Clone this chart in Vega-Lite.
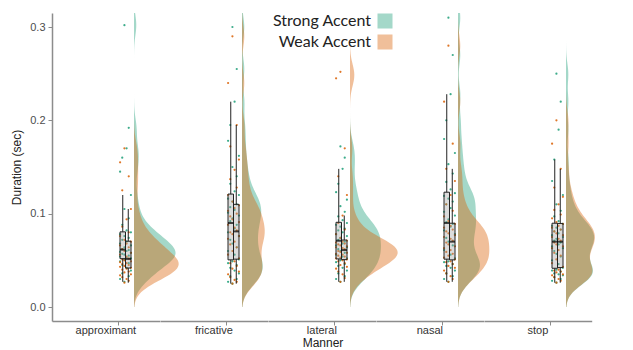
{
"$schema":"https://vega.github.io/schema/vega-lite/v6.json",
"background":"white",
"bounds":"flush",
"padding":{"left":10,"top":13,"right":5,"bottom":0},
"data":{"values":[
{"manner":"approximant","accent":"Strong Accent","dur":0.027,"spk":"s3"},{"manner":"approximant","accent":"Strong Accent","dur":0.030,"spk":"s1"},{"manner":"approximant","accent":"Strong Accent","dur":0.033,"spk":"s5"},{"manner":"approximant","accent":"Strong Accent","dur":0.036,"spk":"s2"},{"manner":"approximant","accent":"Strong Accent","dur":0.039,"spk":"s6"},{"manner":"approximant","accent":"Strong Accent","dur":0.042,"spk":"s4"},{"manner":"approximant","accent":"Strong Accent","dur":0.045,"spk":"s2"},{"manner":"approximant","accent":"Strong Accent","dur":0.047,"spk":"s5"},{"manner":"approximant","accent":"Strong Accent","dur":0.049,"spk":"s1"},{"manner":"approximant","accent":"Strong Accent","dur":0.051,"spk":"s3"},
{"manner":"approximant","accent":"Strong Accent","dur":0.052,"spk":"s6"},{"manner":"approximant","accent":"Strong Accent","dur":0.053,"spk":"s4"},{"manner":"approximant","accent":"Strong Accent","dur":0.054,"spk":"s1"},{"manner":"approximant","accent":"Strong Accent","dur":0.055,"spk":"s5"},{"manner":"approximant","accent":"Strong Accent","dur":0.056,"spk":"s3"},{"manner":"approximant","accent":"Strong Accent","dur":0.057,"spk":"s2"},{"manner":"approximant","accent":"Strong Accent","dur":0.058,"spk":"s6"},{"manner":"approximant","accent":"Strong Accent","dur":0.059,"spk":"s1"},{"manner":"approximant","accent":"Strong Accent","dur":0.060,"spk":"s4"},{"manner":"approximant","accent":"Strong Accent","dur":0.061,"spk":"s5"},
{"manner":"approximant","accent":"Strong Accent","dur":0.062,"spk":"s2"},{"manner":"approximant","accent":"Strong Accent","dur":0.064,"spk":"s3"},{"manner":"approximant","accent":"Strong Accent","dur":0.066,"spk":"s6"},{"manner":"approximant","accent":"Strong Accent","dur":0.068,"spk":"s1"},{"manner":"approximant","accent":"Strong Accent","dur":0.070,"spk":"s4"},{"manner":"approximant","accent":"Strong Accent","dur":0.072,"spk":"s2"},{"manner":"approximant","accent":"Strong Accent","dur":0.074,"spk":"s5"},{"manner":"approximant","accent":"Strong Accent","dur":0.076,"spk":"s3"},{"manner":"approximant","accent":"Strong Accent","dur":0.078,"spk":"s1"},{"manner":"approximant","accent":"Strong Accent","dur":0.080,"spk":"s6"},
{"manner":"approximant","accent":"Strong Accent","dur":0.082,"spk":"s4"},{"manner":"approximant","accent":"Strong Accent","dur":0.088,"spk":"s2"},{"manner":"approximant","accent":"Strong Accent","dur":0.095,"spk":"s5"},{"manner":"approximant","accent":"Strong Accent","dur":0.105,"spk":"s3"},{"manner":"approximant","accent":"Strong Accent","dur":0.120,"spk":"s6"},{"manner":"approximant","accent":"Strong Accent","dur":0.145,"spk":"s1"},{"manner":"approximant","accent":"Strong Accent","dur":0.160,"spk":"s2"},{"manner":"approximant","accent":"Strong Accent","dur":0.170,"spk":"s4"},{"manner":"approximant","accent":"Strong Accent","dur":0.192,"spk":"s5"},{"manner":"approximant","accent":"Strong Accent","dur":0.302,"spk":"s3"},
{"manner":"approximant","accent":"Weak Accent","dur":0.026,"spk":"s3"},{"manner":"approximant","accent":"Weak Accent","dur":0.028,"spk":"s5"},{"manner":"approximant","accent":"Weak Accent","dur":0.030,"spk":"s4"},{"manner":"approximant","accent":"Weak Accent","dur":0.032,"spk":"s2"},{"manner":"approximant","accent":"Weak Accent","dur":0.034,"spk":"s1"},{"manner":"approximant","accent":"Weak Accent","dur":0.035,"spk":"s6"},{"manner":"approximant","accent":"Weak Accent","dur":0.037,"spk":"s3"},{"manner":"approximant","accent":"Weak Accent","dur":0.038,"spk":"s5"},{"manner":"approximant","accent":"Weak Accent","dur":0.040,"spk":"s2"},{"manner":"approximant","accent":"Weak Accent","dur":0.041,"spk":"s4"},
{"manner":"approximant","accent":"Weak Accent","dur":0.042,"spk":"s6"},{"manner":"approximant","accent":"Weak Accent","dur":0.043,"spk":"s1"},{"manner":"approximant","accent":"Weak Accent","dur":0.044,"spk":"s3"},{"manner":"approximant","accent":"Weak Accent","dur":0.045,"spk":"s5"},{"manner":"approximant","accent":"Weak Accent","dur":0.046,"spk":"s2"},{"manner":"approximant","accent":"Weak Accent","dur":0.047,"spk":"s4"},{"manner":"approximant","accent":"Weak Accent","dur":0.048,"spk":"s1"},{"manner":"approximant","accent":"Weak Accent","dur":0.049,"spk":"s6"},{"manner":"approximant","accent":"Weak Accent","dur":0.050,"spk":"s3"},{"manner":"approximant","accent":"Weak Accent","dur":0.051,"spk":"s2"},
{"manner":"approximant","accent":"Weak Accent","dur":0.052,"spk":"s5"},{"manner":"approximant","accent":"Weak Accent","dur":0.054,"spk":"s4"},{"manner":"approximant","accent":"Weak Accent","dur":0.056,"spk":"s1"},{"manner":"approximant","accent":"Weak Accent","dur":0.058,"spk":"s6"},{"manner":"approximant","accent":"Weak Accent","dur":0.060,"spk":"s3"},{"manner":"approximant","accent":"Weak Accent","dur":0.062,"spk":"s2"},{"manner":"approximant","accent":"Weak Accent","dur":0.064,"spk":"s5"},{"manner":"approximant","accent":"Weak Accent","dur":0.066,"spk":"s1"},{"manner":"approximant","accent":"Weak Accent","dur":0.068,"spk":"s4"},{"manner":"approximant","accent":"Weak Accent","dur":0.070,"spk":"s6"},
{"manner":"approximant","accent":"Weak Accent","dur":0.072,"spk":"s3"},{"manner":"approximant","accent":"Weak Accent","dur":0.076,"spk":"s1"},{"manner":"approximant","accent":"Weak Accent","dur":0.080,"spk":"s5"},{"manner":"approximant","accent":"Weak Accent","dur":0.086,"spk":"s2"},{"manner":"approximant","accent":"Weak Accent","dur":0.094,"spk":"s4"},{"manner":"approximant","accent":"Weak Accent","dur":0.105,"spk":"s6"},{"manner":"approximant","accent":"Weak Accent","dur":0.125,"spk":"s2"},{"manner":"approximant","accent":"Weak Accent","dur":0.140,"spk":"s5"},{"manner":"approximant","accent":"Weak Accent","dur":0.155,"spk":"s1"},{"manner":"approximant","accent":"Weak Accent","dur":0.170,"spk":"s3"},
{"manner":"fricative","accent":"Strong Accent","dur":0.025,"spk":"s3"},{"manner":"fricative","accent":"Strong Accent","dur":0.027,"spk":"s1"},{"manner":"fricative","accent":"Strong Accent","dur":0.030,"spk":"s5"},{"manner":"fricative","accent":"Strong Accent","dur":0.033,"spk":"s2"},{"manner":"fricative","accent":"Strong Accent","dur":0.036,"spk":"s6"},{"manner":"fricative","accent":"Strong Accent","dur":0.039,"spk":"s4"},{"manner":"fricative","accent":"Strong Accent","dur":0.042,"spk":"s2"},{"manner":"fricative","accent":"Strong Accent","dur":0.045,"spk":"s5"},{"manner":"fricative","accent":"Strong Accent","dur":0.047,"spk":"s1"},{"manner":"fricative","accent":"Strong Accent","dur":0.049,"spk":"s3"},
{"manner":"fricative","accent":"Strong Accent","dur":0.051,"spk":"s6"},{"manner":"fricative","accent":"Strong Accent","dur":0.056,"spk":"s4"},{"manner":"fricative","accent":"Strong Accent","dur":0.060,"spk":"s1"},{"manner":"fricative","accent":"Strong Accent","dur":0.064,"spk":"s5"},{"manner":"fricative","accent":"Strong Accent","dur":0.068,"spk":"s3"},{"manner":"fricative","accent":"Strong Accent","dur":0.072,"spk":"s2"},{"manner":"fricative","accent":"Strong Accent","dur":0.076,"spk":"s6"},{"manner":"fricative","accent":"Strong Accent","dur":0.080,"spk":"s1"},{"manner":"fricative","accent":"Strong Accent","dur":0.084,"spk":"s4"},{"manner":"fricative","accent":"Strong Accent","dur":0.088,"spk":"s5"},
{"manner":"fricative","accent":"Strong Accent","dur":0.092,"spk":"s2"},{"manner":"fricative","accent":"Strong Accent","dur":0.095,"spk":"s3"},{"manner":"fricative","accent":"Strong Accent","dur":0.098,"spk":"s6"},{"manner":"fricative","accent":"Strong Accent","dur":0.101,"spk":"s1"},{"manner":"fricative","accent":"Strong Accent","dur":0.104,"spk":"s4"},{"manner":"fricative","accent":"Strong Accent","dur":0.107,"spk":"s2"},{"manner":"fricative","accent":"Strong Accent","dur":0.110,"spk":"s5"},{"manner":"fricative","accent":"Strong Accent","dur":0.113,"spk":"s3"},{"manner":"fricative","accent":"Strong Accent","dur":0.116,"spk":"s1"},{"manner":"fricative","accent":"Strong Accent","dur":0.120,"spk":"s6"},
{"manner":"fricative","accent":"Strong Accent","dur":0.124,"spk":"s4"},{"manner":"fricative","accent":"Strong Accent","dur":0.132,"spk":"s2"},{"manner":"fricative","accent":"Strong Accent","dur":0.140,"spk":"s5"},{"manner":"fricative","accent":"Strong Accent","dur":0.150,"spk":"s3"},{"manner":"fricative","accent":"Strong Accent","dur":0.162,"spk":"s6"},{"manner":"fricative","accent":"Strong Accent","dur":0.178,"spk":"s1"},{"manner":"fricative","accent":"Strong Accent","dur":0.195,"spk":"s2"},{"manner":"fricative","accent":"Strong Accent","dur":0.220,"spk":"s4"},{"manner":"fricative","accent":"Strong Accent","dur":0.255,"spk":"s5"},{"manner":"fricative","accent":"Strong Accent","dur":0.300,"spk":"s3"},
{"manner":"fricative","accent":"Weak Accent","dur":0.025,"spk":"s3"},{"manner":"fricative","accent":"Weak Accent","dur":0.027,"spk":"s5"},{"manner":"fricative","accent":"Weak Accent","dur":0.029,"spk":"s4"},{"manner":"fricative","accent":"Weak Accent","dur":0.032,"spk":"s2"},{"manner":"fricative","accent":"Weak Accent","dur":0.035,"spk":"s1"},{"manner":"fricative","accent":"Weak Accent","dur":0.038,"spk":"s6"},{"manner":"fricative","accent":"Weak Accent","dur":0.041,"spk":"s3"},{"manner":"fricative","accent":"Weak Accent","dur":0.044,"spk":"s5"},{"manner":"fricative","accent":"Weak Accent","dur":0.047,"spk":"s2"},{"manner":"fricative","accent":"Weak Accent","dur":0.049,"spk":"s4"},
{"manner":"fricative","accent":"Weak Accent","dur":0.052,"spk":"s6"},{"manner":"fricative","accent":"Weak Accent","dur":0.056,"spk":"s1"},{"manner":"fricative","accent":"Weak Accent","dur":0.060,"spk":"s3"},{"manner":"fricative","accent":"Weak Accent","dur":0.064,"spk":"s5"},{"manner":"fricative","accent":"Weak Accent","dur":0.067,"spk":"s2"},{"manner":"fricative","accent":"Weak Accent","dur":0.070,"spk":"s4"},{"manner":"fricative","accent":"Weak Accent","dur":0.073,"spk":"s1"},{"manner":"fricative","accent":"Weak Accent","dur":0.076,"spk":"s6"},{"manner":"fricative","accent":"Weak Accent","dur":0.078,"spk":"s3"},{"manner":"fricative","accent":"Weak Accent","dur":0.080,"spk":"s2"},
{"manner":"fricative","accent":"Weak Accent","dur":0.082,"spk":"s5"},{"manner":"fricative","accent":"Weak Accent","dur":0.085,"spk":"s4"},{"manner":"fricative","accent":"Weak Accent","dur":0.088,"spk":"s1"},{"manner":"fricative","accent":"Weak Accent","dur":0.091,"spk":"s6"},{"manner":"fricative","accent":"Weak Accent","dur":0.094,"spk":"s3"},{"manner":"fricative","accent":"Weak Accent","dur":0.097,"spk":"s2"},{"manner":"fricative","accent":"Weak Accent","dur":0.100,"spk":"s5"},{"manner":"fricative","accent":"Weak Accent","dur":0.103,"spk":"s1"},{"manner":"fricative","accent":"Weak Accent","dur":0.106,"spk":"s4"},{"manner":"fricative","accent":"Weak Accent","dur":0.109,"spk":"s6"},
{"manner":"fricative","accent":"Weak Accent","dur":0.113,"spk":"s3"},{"manner":"fricative","accent":"Weak Accent","dur":0.120,"spk":"s1"},{"manner":"fricative","accent":"Weak Accent","dur":0.128,"spk":"s5"},{"manner":"fricative","accent":"Weak Accent","dur":0.137,"spk":"s2"},{"manner":"fricative","accent":"Weak Accent","dur":0.147,"spk":"s4"},{"manner":"fricative","accent":"Weak Accent","dur":0.158,"spk":"s6"},{"manner":"fricative","accent":"Weak Accent","dur":0.172,"spk":"s2"},{"manner":"fricative","accent":"Weak Accent","dur":0.195,"spk":"s5"},{"manner":"fricative","accent":"Weak Accent","dur":0.240,"spk":"s1"},{"manner":"fricative","accent":"Weak Accent","dur":0.290,"spk":"s3"},
{"manner":"lateral","accent":"Strong Accent","dur":0.027,"spk":"s3"},{"manner":"lateral","accent":"Strong Accent","dur":0.030,"spk":"s1"},{"manner":"lateral","accent":"Strong Accent","dur":0.033,"spk":"s5"},{"manner":"lateral","accent":"Strong Accent","dur":0.036,"spk":"s2"},{"manner":"lateral","accent":"Strong Accent","dur":0.039,"spk":"s6"},{"manner":"lateral","accent":"Strong Accent","dur":0.042,"spk":"s4"},{"manner":"lateral","accent":"Strong Accent","dur":0.044,"spk":"s2"},{"manner":"lateral","accent":"Strong Accent","dur":0.046,"spk":"s5"},{"manner":"lateral","accent":"Strong Accent","dur":0.048,"spk":"s1"},{"manner":"lateral","accent":"Strong Accent","dur":0.050,"spk":"s3"},
{"manner":"lateral","accent":"Strong Accent","dur":0.052,"spk":"s6"},{"manner":"lateral","accent":"Strong Accent","dur":0.054,"spk":"s4"},{"manner":"lateral","accent":"Strong Accent","dur":0.056,"spk":"s1"},{"manner":"lateral","accent":"Strong Accent","dur":0.058,"spk":"s5"},{"manner":"lateral","accent":"Strong Accent","dur":0.060,"spk":"s3"},{"manner":"lateral","accent":"Strong Accent","dur":0.062,"spk":"s2"},{"manner":"lateral","accent":"Strong Accent","dur":0.064,"spk":"s6"},{"manner":"lateral","accent":"Strong Accent","dur":0.066,"spk":"s1"},{"manner":"lateral","accent":"Strong Accent","dur":0.068,"spk":"s4"},{"manner":"lateral","accent":"Strong Accent","dur":0.070,"spk":"s5"},
{"manner":"lateral","accent":"Strong Accent","dur":0.072,"spk":"s2"},{"manner":"lateral","accent":"Strong Accent","dur":0.074,"spk":"s3"},{"manner":"lateral","accent":"Strong Accent","dur":0.076,"spk":"s6"},{"manner":"lateral","accent":"Strong Accent","dur":0.078,"spk":"s1"},{"manner":"lateral","accent":"Strong Accent","dur":0.080,"spk":"s4"},{"manner":"lateral","accent":"Strong Accent","dur":0.082,"spk":"s2"},{"manner":"lateral","accent":"Strong Accent","dur":0.084,"spk":"s5"},{"manner":"lateral","accent":"Strong Accent","dur":0.086,"spk":"s3"},{"manner":"lateral","accent":"Strong Accent","dur":0.088,"spk":"s1"},{"manner":"lateral","accent":"Strong Accent","dur":0.090,"spk":"s6"},
{"manner":"lateral","accent":"Strong Accent","dur":0.093,"spk":"s4"},{"manner":"lateral","accent":"Strong Accent","dur":0.097,"spk":"s2"},{"manner":"lateral","accent":"Strong Accent","dur":0.102,"spk":"s5"},{"manner":"lateral","accent":"Strong Accent","dur":0.108,"spk":"s3"},{"manner":"lateral","accent":"Strong Accent","dur":0.115,"spk":"s6"},{"manner":"lateral","accent":"Strong Accent","dur":0.123,"spk":"s1"},{"manner":"lateral","accent":"Strong Accent","dur":0.132,"spk":"s2"},{"manner":"lateral","accent":"Strong Accent","dur":0.148,"spk":"s4"},{"manner":"lateral","accent":"Strong Accent","dur":0.160,"spk":"s5"},{"manner":"lateral","accent":"Strong Accent","dur":0.172,"spk":"s3"},
{"manner":"lateral","accent":"Weak Accent","dur":0.027,"spk":"s3"},{"manner":"lateral","accent":"Weak Accent","dur":0.031,"spk":"s5"},{"manner":"lateral","accent":"Weak Accent","dur":0.035,"spk":"s4"},{"manner":"lateral","accent":"Weak Accent","dur":0.038,"spk":"s2"},{"manner":"lateral","accent":"Weak Accent","dur":0.041,"spk":"s1"},{"manner":"lateral","accent":"Weak Accent","dur":0.043,"spk":"s6"},{"manner":"lateral","accent":"Weak Accent","dur":0.045,"spk":"s3"},{"manner":"lateral","accent":"Weak Accent","dur":0.047,"spk":"s5"},{"manner":"lateral","accent":"Weak Accent","dur":0.049,"spk":"s2"},{"manner":"lateral","accent":"Weak Accent","dur":0.050,"spk":"s4"},
{"manner":"lateral","accent":"Weak Accent","dur":0.051,"spk":"s6"},{"manner":"lateral","accent":"Weak Accent","dur":0.052,"spk":"s1"},{"manner":"lateral","accent":"Weak Accent","dur":0.053,"spk":"s3"},{"manner":"lateral","accent":"Weak Accent","dur":0.054,"spk":"s5"},{"manner":"lateral","accent":"Weak Accent","dur":0.055,"spk":"s2"},{"manner":"lateral","accent":"Weak Accent","dur":0.056,"spk":"s4"},{"manner":"lateral","accent":"Weak Accent","dur":0.057,"spk":"s1"},{"manner":"lateral","accent":"Weak Accent","dur":0.058,"spk":"s6"},{"manner":"lateral","accent":"Weak Accent","dur":0.059,"spk":"s3"},{"manner":"lateral","accent":"Weak Accent","dur":0.060,"spk":"s2"},
{"manner":"lateral","accent":"Weak Accent","dur":0.062,"spk":"s5"},{"manner":"lateral","accent":"Weak Accent","dur":0.063,"spk":"s4"},{"manner":"lateral","accent":"Weak Accent","dur":0.064,"spk":"s1"},{"manner":"lateral","accent":"Weak Accent","dur":0.065,"spk":"s6"},{"manner":"lateral","accent":"Weak Accent","dur":0.066,"spk":"s3"},{"manner":"lateral","accent":"Weak Accent","dur":0.067,"spk":"s2"},{"manner":"lateral","accent":"Weak Accent","dur":0.068,"spk":"s5"},{"manner":"lateral","accent":"Weak Accent","dur":0.069,"spk":"s1"},{"manner":"lateral","accent":"Weak Accent","dur":0.070,"spk":"s4"},{"manner":"lateral","accent":"Weak Accent","dur":0.071,"spk":"s6"},
{"manner":"lateral","accent":"Weak Accent","dur":0.074,"spk":"s3"},{"manner":"lateral","accent":"Weak Accent","dur":0.078,"spk":"s1"},{"manner":"lateral","accent":"Weak Accent","dur":0.083,"spk":"s5"},{"manner":"lateral","accent":"Weak Accent","dur":0.090,"spk":"s2"},{"manner":"lateral","accent":"Weak Accent","dur":0.098,"spk":"s4"},{"manner":"lateral","accent":"Weak Accent","dur":0.120,"spk":"s6"},{"manner":"lateral","accent":"Weak Accent","dur":0.140,"spk":"s2"},{"manner":"lateral","accent":"Weak Accent","dur":0.170,"spk":"s5"},{"manner":"lateral","accent":"Weak Accent","dur":0.245,"spk":"s1"},{"manner":"lateral","accent":"Weak Accent","dur":0.252,"spk":"s3"},
{"manner":"nasal","accent":"Strong Accent","dur":0.027,"spk":"s3"},{"manner":"nasal","accent":"Strong Accent","dur":0.030,"spk":"s1"},{"manner":"nasal","accent":"Strong Accent","dur":0.033,"spk":"s5"},{"manner":"nasal","accent":"Strong Accent","dur":0.036,"spk":"s2"},{"manner":"nasal","accent":"Strong Accent","dur":0.039,"spk":"s6"},{"manner":"nasal","accent":"Strong Accent","dur":0.042,"spk":"s4"},{"manner":"nasal","accent":"Strong Accent","dur":0.044,"spk":"s2"},{"manner":"nasal","accent":"Strong Accent","dur":0.046,"spk":"s5"},{"manner":"nasal","accent":"Strong Accent","dur":0.048,"spk":"s1"},{"manner":"nasal","accent":"Strong Accent","dur":0.049,"spk":"s3"},
{"manner":"nasal","accent":"Strong Accent","dur":0.052,"spk":"s6"},{"manner":"nasal","accent":"Strong Accent","dur":0.056,"spk":"s4"},{"manner":"nasal","accent":"Strong Accent","dur":0.061,"spk":"s1"},{"manner":"nasal","accent":"Strong Accent","dur":0.066,"spk":"s5"},{"manner":"nasal","accent":"Strong Accent","dur":0.070,"spk":"s3"},{"manner":"nasal","accent":"Strong Accent","dur":0.074,"spk":"s2"},{"manner":"nasal","accent":"Strong Accent","dur":0.078,"spk":"s6"},{"manner":"nasal","accent":"Strong Accent","dur":0.082,"spk":"s1"},{"manner":"nasal","accent":"Strong Accent","dur":0.086,"spk":"s4"},{"manner":"nasal","accent":"Strong Accent","dur":0.089,"spk":"s5"},
{"manner":"nasal","accent":"Strong Accent","dur":0.091,"spk":"s2"},{"manner":"nasal","accent":"Strong Accent","dur":0.094,"spk":"s3"},{"manner":"nasal","accent":"Strong Accent","dur":0.098,"spk":"s6"},{"manner":"nasal","accent":"Strong Accent","dur":0.102,"spk":"s1"},{"manner":"nasal","accent":"Strong Accent","dur":0.106,"spk":"s4"},{"manner":"nasal","accent":"Strong Accent","dur":0.110,"spk":"s2"},{"manner":"nasal","accent":"Strong Accent","dur":0.113,"spk":"s5"},{"manner":"nasal","accent":"Strong Accent","dur":0.116,"spk":"s3"},{"manner":"nasal","accent":"Strong Accent","dur":0.119,"spk":"s1"},{"manner":"nasal","accent":"Strong Accent","dur":0.122,"spk":"s6"},
{"manner":"nasal","accent":"Strong Accent","dur":0.126,"spk":"s4"},{"manner":"nasal","accent":"Strong Accent","dur":0.134,"spk":"s2"},{"manner":"nasal","accent":"Strong Accent","dur":0.143,"spk":"s5"},{"manner":"nasal","accent":"Strong Accent","dur":0.153,"spk":"s3"},{"manner":"nasal","accent":"Strong Accent","dur":0.165,"spk":"s6"},{"manner":"nasal","accent":"Strong Accent","dur":0.180,"spk":"s1"},{"manner":"nasal","accent":"Strong Accent","dur":0.200,"spk":"s2"},{"manner":"nasal","accent":"Strong Accent","dur":0.228,"spk":"s4"},{"manner":"nasal","accent":"Strong Accent","dur":0.270,"spk":"s5"},{"manner":"nasal","accent":"Strong Accent","dur":0.310,"spk":"s3"},
{"manner":"nasal","accent":"Weak Accent","dur":0.027,"spk":"s3"},{"manner":"nasal","accent":"Weak Accent","dur":0.030,"spk":"s5"},{"manner":"nasal","accent":"Weak Accent","dur":0.033,"spk":"s4"},{"manner":"nasal","accent":"Weak Accent","dur":0.036,"spk":"s2"},{"manner":"nasal","accent":"Weak Accent","dur":0.039,"spk":"s1"},{"manner":"nasal","accent":"Weak Accent","dur":0.042,"spk":"s6"},{"manner":"nasal","accent":"Weak Accent","dur":0.044,"spk":"s3"},{"manner":"nasal","accent":"Weak Accent","dur":0.046,"spk":"s5"},{"manner":"nasal","accent":"Weak Accent","dur":0.048,"spk":"s2"},{"manner":"nasal","accent":"Weak Accent","dur":0.049,"spk":"s4"},
{"manner":"nasal","accent":"Weak Accent","dur":0.051,"spk":"s6"},{"manner":"nasal","accent":"Weak Accent","dur":0.053,"spk":"s1"},{"manner":"nasal","accent":"Weak Accent","dur":0.055,"spk":"s3"},{"manner":"nasal","accent":"Weak Accent","dur":0.057,"spk":"s5"},{"manner":"nasal","accent":"Weak Accent","dur":0.059,"spk":"s2"},{"manner":"nasal","accent":"Weak Accent","dur":0.061,"spk":"s4"},{"manner":"nasal","accent":"Weak Accent","dur":0.063,"spk":"s1"},{"manner":"nasal","accent":"Weak Accent","dur":0.065,"spk":"s6"},{"manner":"nasal","accent":"Weak Accent","dur":0.067,"spk":"s3"},{"manner":"nasal","accent":"Weak Accent","dur":0.069,"spk":"s2"},
{"manner":"nasal","accent":"Weak Accent","dur":0.071,"spk":"s5"},{"manner":"nasal","accent":"Weak Accent","dur":0.073,"spk":"s4"},{"manner":"nasal","accent":"Weak Accent","dur":0.075,"spk":"s1"},{"manner":"nasal","accent":"Weak Accent","dur":0.077,"spk":"s6"},{"manner":"nasal","accent":"Weak Accent","dur":0.079,"spk":"s3"},{"manner":"nasal","accent":"Weak Accent","dur":0.081,"spk":"s2"},{"manner":"nasal","accent":"Weak Accent","dur":0.083,"spk":"s5"},{"manner":"nasal","accent":"Weak Accent","dur":0.085,"spk":"s1"},{"manner":"nasal","accent":"Weak Accent","dur":0.087,"spk":"s4"},{"manner":"nasal","accent":"Weak Accent","dur":0.089,"spk":"s6"},
{"manner":"nasal","accent":"Weak Accent","dur":0.092,"spk":"s3"},{"manner":"nasal","accent":"Weak Accent","dur":0.097,"spk":"s1"},{"manner":"nasal","accent":"Weak Accent","dur":0.103,"spk":"s5"},{"manner":"nasal","accent":"Weak Accent","dur":0.110,"spk":"s2"},{"manner":"nasal","accent":"Weak Accent","dur":0.120,"spk":"s4"},{"manner":"nasal","accent":"Weak Accent","dur":0.135,"spk":"s6"},{"manner":"nasal","accent":"Weak Accent","dur":0.148,"spk":"s2"},{"manner":"nasal","accent":"Weak Accent","dur":0.175,"spk":"s5"},{"manner":"nasal","accent":"Weak Accent","dur":0.220,"spk":"s1"},{"manner":"nasal","accent":"Weak Accent","dur":0.280,"spk":"s3"},
{"manner":"stop","accent":"Strong Accent","dur":0.026,"spk":"s3"},{"manner":"stop","accent":"Strong Accent","dur":0.028,"spk":"s1"},{"manner":"stop","accent":"Strong Accent","dur":0.030,"spk":"s5"},{"manner":"stop","accent":"Strong Accent","dur":0.032,"spk":"s2"},{"manner":"stop","accent":"Strong Accent","dur":0.034,"spk":"s6"},{"manner":"stop","accent":"Strong Accent","dur":0.035,"spk":"s4"},{"manner":"stop","accent":"Strong Accent","dur":0.036,"spk":"s2"},{"manner":"stop","accent":"Strong Accent","dur":0.038,"spk":"s5"},{"manner":"stop","accent":"Strong Accent","dur":0.039,"spk":"s1"},{"manner":"stop","accent":"Strong Accent","dur":0.040,"spk":"s3"},
{"manner":"stop","accent":"Strong Accent","dur":0.042,"spk":"s6"},{"manner":"stop","accent":"Strong Accent","dur":0.046,"spk":"s4"},{"manner":"stop","accent":"Strong Accent","dur":0.050,"spk":"s1"},{"manner":"stop","accent":"Strong Accent","dur":0.054,"spk":"s5"},{"manner":"stop","accent":"Strong Accent","dur":0.057,"spk":"s3"},{"manner":"stop","accent":"Strong Accent","dur":0.060,"spk":"s2"},{"manner":"stop","accent":"Strong Accent","dur":0.063,"spk":"s6"},{"manner":"stop","accent":"Strong Accent","dur":0.065,"spk":"s1"},{"manner":"stop","accent":"Strong Accent","dur":0.067,"spk":"s4"},{"manner":"stop","accent":"Strong Accent","dur":0.069,"spk":"s5"},
{"manner":"stop","accent":"Strong Accent","dur":0.071,"spk":"s2"},{"manner":"stop","accent":"Strong Accent","dur":0.073,"spk":"s3"},{"manner":"stop","accent":"Strong Accent","dur":0.075,"spk":"s6"},{"manner":"stop","accent":"Strong Accent","dur":0.077,"spk":"s1"},{"manner":"stop","accent":"Strong Accent","dur":0.079,"spk":"s4"},{"manner":"stop","accent":"Strong Accent","dur":0.081,"spk":"s2"},{"manner":"stop","accent":"Strong Accent","dur":0.083,"spk":"s5"},{"manner":"stop","accent":"Strong Accent","dur":0.085,"spk":"s3"},{"manner":"stop","accent":"Strong Accent","dur":0.087,"spk":"s1"},{"manner":"stop","accent":"Strong Accent","dur":0.089,"spk":"s6"},
{"manner":"stop","accent":"Strong Accent","dur":0.092,"spk":"s4"},{"manner":"stop","accent":"Strong Accent","dur":0.097,"spk":"s2"},{"manner":"stop","accent":"Strong Accent","dur":0.103,"spk":"s5"},{"manner":"stop","accent":"Strong Accent","dur":0.110,"spk":"s3"},{"manner":"stop","accent":"Strong Accent","dur":0.120,"spk":"s6"},{"manner":"stop","accent":"Strong Accent","dur":0.135,"spk":"s1"},{"manner":"stop","accent":"Strong Accent","dur":0.158,"spk":"s2"},{"manner":"stop","accent":"Strong Accent","dur":0.190,"spk":"s4"},{"manner":"stop","accent":"Strong Accent","dur":0.220,"spk":"s5"},{"manner":"stop","accent":"Strong Accent","dur":0.250,"spk":"s3"},
{"manner":"stop","accent":"Weak Accent","dur":0.026,"spk":"s3"},{"manner":"stop","accent":"Weak Accent","dur":0.028,"spk":"s5"},{"manner":"stop","accent":"Weak Accent","dur":0.030,"spk":"s4"},{"manner":"stop","accent":"Weak Accent","dur":0.032,"spk":"s2"},{"manner":"stop","accent":"Weak Accent","dur":0.034,"spk":"s1"},{"manner":"stop","accent":"Weak Accent","dur":0.035,"spk":"s6"},{"manner":"stop","accent":"Weak Accent","dur":0.037,"spk":"s3"},{"manner":"stop","accent":"Weak Accent","dur":0.038,"spk":"s5"},{"manner":"stop","accent":"Weak Accent","dur":0.039,"spk":"s2"},{"manner":"stop","accent":"Weak Accent","dur":0.040,"spk":"s4"},
{"manner":"stop","accent":"Weak Accent","dur":0.043,"spk":"s6"},{"manner":"stop","accent":"Weak Accent","dur":0.047,"spk":"s1"},{"manner":"stop","accent":"Weak Accent","dur":0.051,"spk":"s3"},{"manner":"stop","accent":"Weak Accent","dur":0.055,"spk":"s5"},{"manner":"stop","accent":"Weak Accent","dur":0.058,"spk":"s2"},{"manner":"stop","accent":"Weak Accent","dur":0.061,"spk":"s4"},{"manner":"stop","accent":"Weak Accent","dur":0.063,"spk":"s1"},{"manner":"stop","accent":"Weak Accent","dur":0.065,"spk":"s6"},{"manner":"stop","accent":"Weak Accent","dur":0.067,"spk":"s3"},{"manner":"stop","accent":"Weak Accent","dur":0.069,"spk":"s2"},
{"manner":"stop","accent":"Weak Accent","dur":0.071,"spk":"s5"},{"manner":"stop","accent":"Weak Accent","dur":0.073,"spk":"s4"},{"manner":"stop","accent":"Weak Accent","dur":0.075,"spk":"s1"},{"manner":"stop","accent":"Weak Accent","dur":0.077,"spk":"s6"},{"manner":"stop","accent":"Weak Accent","dur":0.079,"spk":"s3"},{"manner":"stop","accent":"Weak Accent","dur":0.081,"spk":"s2"},{"manner":"stop","accent":"Weak Accent","dur":0.083,"spk":"s5"},{"manner":"stop","accent":"Weak Accent","dur":0.085,"spk":"s1"},{"manner":"stop","accent":"Weak Accent","dur":0.087,"spk":"s4"},{"manner":"stop","accent":"Weak Accent","dur":0.089,"spk":"s6"},
{"manner":"stop","accent":"Weak Accent","dur":0.091,"spk":"s3"},{"manner":"stop","accent":"Weak Accent","dur":0.095,"spk":"s1"},{"manner":"stop","accent":"Weak Accent","dur":0.099,"spk":"s5"},{"manner":"stop","accent":"Weak Accent","dur":0.104,"spk":"s2"},{"manner":"stop","accent":"Weak Accent","dur":0.110,"spk":"s4"},{"manner":"stop","accent":"Weak Accent","dur":0.118,"spk":"s6"},{"manner":"stop","accent":"Weak Accent","dur":0.128,"spk":"s2"},{"manner":"stop","accent":"Weak Accent","dur":0.148,"spk":"s5"},{"manner":"stop","accent":"Weak Accent","dur":0.175,"spk":"s1"},{"manner":"stop","accent":"Weak Accent","dur":0.200,"spk":"s3"}
]},
"facet":{"column":{"field":"manner","type":"nominal","title":"Manner","header":{"labelOrient":"bottom","labelExpr":"'\u00a0\u00a0\u00a0\u00a0\u00a0\u00a0\u00a0\u00a0' + datum.label","labelFont":"Liberation Sans","labelFontSize":11,"labelColor":"#333","labelPadding":4,"titleOrient":"bottom","titleFont":"Liberation Sans","titleFontSize":12,"titleFontWeight":"normal","titleColor":"#222","titlePadding":-8}}},
"spacing":0,
"resolve":{"scale":{"x":"independent"}},
"spec":{
 "width":107.7,"height":308,
 "layer":[
  {
   "transform":[{"density":"dur","groupby":["manner","accent"],"bandwidth":0.011,"extent":[0.0,0.315],"steps":160}],
   "mark":{"type":"area","orient":"horizontal","opacity":0.4},
   "encoding":{
    "y":{"field":"value","type":"quantitative","title":"Duration (sec)","scale":{"domain":[-0.015,0.315],"nice":false,"zero":false},"axis":{"values":[0,0.1,0.2,0.3],"format":".1f","domainColor":"#8c8c8c","domainWidth":1.5,"tickColor":"#8c8c8c","tickSize":4,"labelColor":"#4d4d4d","labelFontSize":11,"labelPadding":3,"titleFontSize":12,"titleFontWeight":"normal","titleColor":"#222","titlePadding":6}},
    "x":{"field":"density","type":"quantitative","scale":{"domain":[-32.8,10.28],"nice":false,"zero":false},"axis":{"values":[-6.6],"labels":false,"title":null,"domainColor":"#8c8c8c","domainWidth":1.5,"tickColor":"#8c8c8c","tickSize":4}},
    "x2":{"datum":0},
    "color":{"field":"accent","type":"nominal","scale":{"domain":["Strong Accent","Weak Accent"],"range":["#1b9e77","#d95f02"]},"legend":{"orient":"none","legendX":325,"legendY":0,"title":null,"symbolType":"square","symbolSize":225,"symbolOpacity":0.4,"symbolStrokeWidth":0,"labelFont":"Lato","labelFontSize":16,"labelColor":"#222","labelAlign":"right","labelOffset":-22,"rowPadding":5,"encode":{"symbols":{"update":{"opacity":{"value":0.4},"fillOpacity":{"value":1},"strokeWidth":{"value":0}}}}}}
   }
  },
  {"mark":{"type":"circle","size":5,"opacity":0.85},
   "encoding":{"y":{"field":"dur","type":"quantitative","title":"Duration (sec)"},"x":{"field":"spk","type":"nominal","scale":{"range":[67,80],"paddingInner":0,"paddingOuter":0},"axis":null},"color":{"field":"accent","type":"nominal","legend":null}}},
  {"mark":{"type":"boxplot","extent":1.5,"size":5.5,"outliers":false,"box":{"fill":"#9a9a9a","fillOpacity":0.35,"stroke":"#222","strokeWidth":1},"median":{"color":"#000","thickness":2},"rule":{"color":"#222","strokeWidth":1}},
   "encoding":{"y":{"field":"dur","type":"quantitative","title":"Duration (sec)"},"x":{"field":"accent","type":"nominal","scale":{"range":[68,79],"paddingInner":0,"paddingOuter":0},"axis":null}}}
 ],
 "resolve":{"scale":{"x":"independent"}}
},
"config":{"font":"Liberation Sans","view":{"stroke":null},"axis":{"grid":false,"labelFont":"Liberation Sans","titleFont":"Liberation Sans"}}
}
